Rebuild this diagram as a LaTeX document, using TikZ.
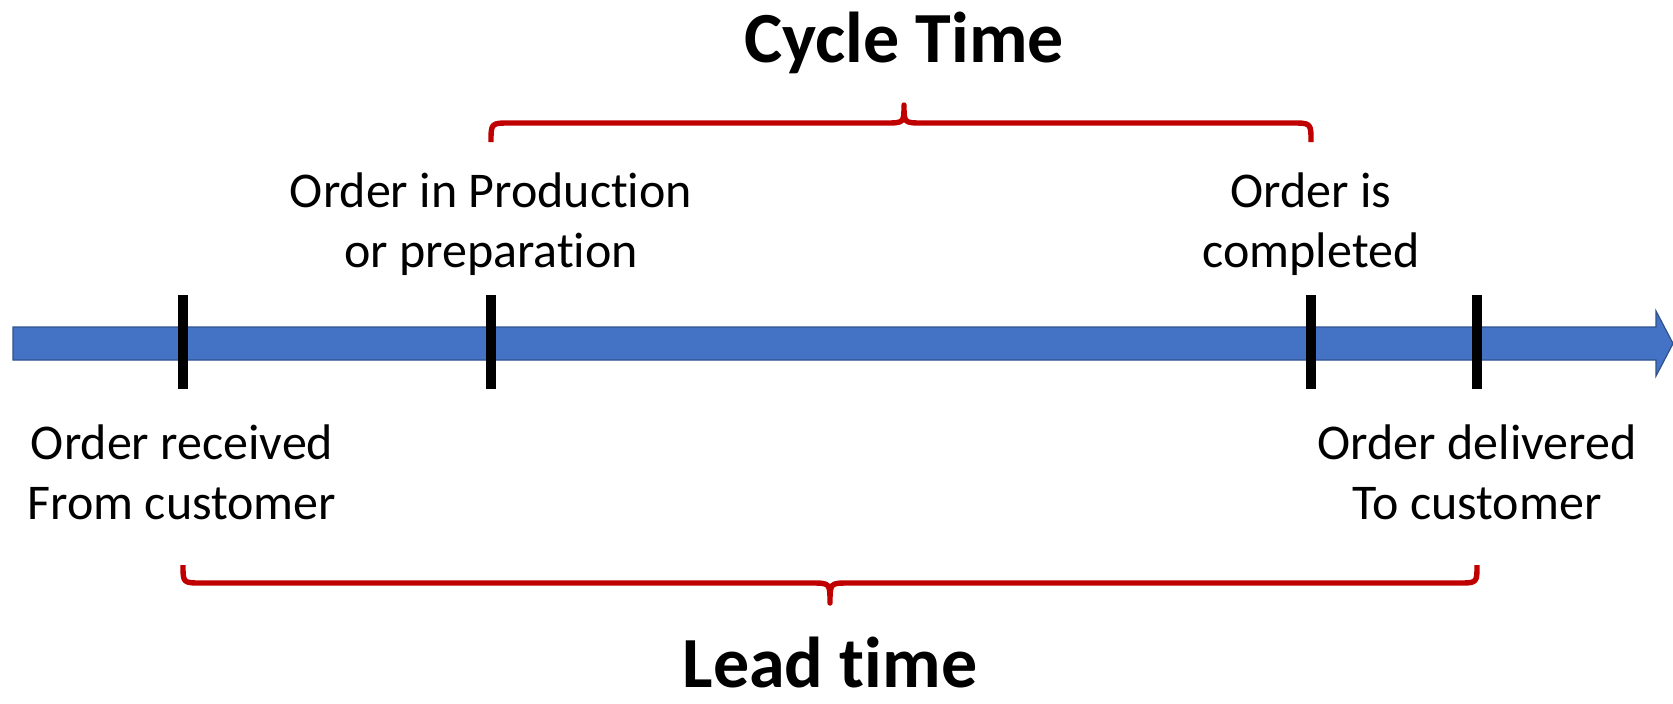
\documentclass[tikz,border=0pt]{standalone}
\usepackage{fontspec}
\setmainfont[Ligatures=NoCommon]{Carlito}
\usetikzlibrary{calc}
\definecolor{axisblue}{HTML}{4472C4}
\definecolor{axisedge}{HTML}{2F528F}
\definecolor{bracered}{HTML}{C00000}
\begin{document}
\begin{tikzpicture}[x=0.5pt,y=-0.5pt,
  tick/.style={line width=5pt,black},
  brace/.style={line width=2.7pt,bracered,line cap=butt,line join=round},
  label/.style={align=center,inner sep=0pt,font=\fontsize{25}{30}\selectfont},
  title/.style={anchor=base,inner sep=0pt,text depth=0pt,font=\fontsize{36}{40}\selectfont\bfseries}]
\useasboundingbox (0,0) rectangle (1673,703);

% time axis
\fill[axisblue,draw=axisedge,line width=0.6pt]
  (13,327) -- (1656,327) -- (1656,311) -- (1673,343.5) -- (1656,376)
  -- (1656,360) -- (13,360) -- cycle;

% milestones on the axis
\coordinate (received) at (183,343);
\coordinate (production) at (491,343);
\coordinate (completed) at (1311,343);
\coordinate (delivered) at (1477,343);
\foreach \m in {received,production,completed,delivered}
  \draw[tick] ($(\m)+(0,-48)$) -- ($(\m)+(0,46)$);

% milestone labels
\node[label] (lprod) at (491,224) {Order in Production\\or preparation};
\node[label] (lcomp) at (1311,224) {Order is\\completed};
\node[label] (lrecv) at (182,472) {Order received\\From customer};
\node[label] (ldeliv) at (1477,472) {Order delivered\\To customer};

% cycle time brace
\coordinate (ctip) at (904,105);
\draw[brace] ($(production)+(0,-201)$) .. controls ($(production)+(0,-220)$) .. ($(production)+(19,-220)$)
  -- (885,123) .. controls (904,123) .. (ctip)
  .. controls (904,123) .. (923,123)
  -- ($(completed)+(-19,-220)$) .. controls ($(completed)+(0,-220)$) .. ($(completed)+(0,-201)$);
\node[title] (cycle) at (904,62) {Cycle Time};

% lead time brace
\coordinate (ltip) at (830,603);
\draw[brace] ($(received)+(0,222)$) .. controls ($(received)+(0,240)$) .. ($(received)+(19,240)$)
  -- (811,583) .. controls (830,583) .. (ltip)
  .. controls (830,583) .. (849,583)
  -- ($(delivered)+(-19,240)$) .. controls ($(delivered)+(0,240)$) .. ($(delivered)+(0,222)$);
\node[title] (lead) at (830,687) {Lead time};
\end{tikzpicture}
\end{document}
